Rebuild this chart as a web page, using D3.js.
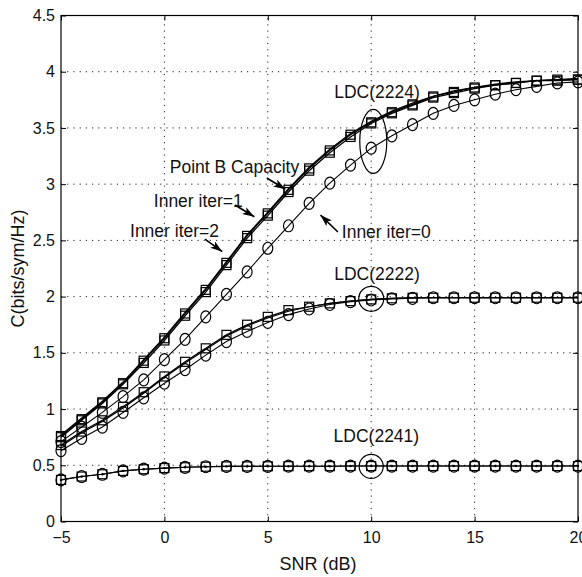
<!DOCTYPE html>
<html><head><meta charset="utf-8">
<script src="https://cdn.jsdelivr.net/npm/d3@7"></script>
<style>
body{margin:0;background:#fff;}
svg text{font-family:"Liberation Sans Narrow","Arial Narrow","Liberation Sans",sans-serif;fill:#111;}
</style></head><body>
<svg id="c" width="582" height="577"></svg>
<script>
// ---- data ----
const snr = [-5,-4,-3,-2,-1,0,1,2,3,4,5,6,7,8,9,10,11,12,13,14,15,16,17,18,19,20];
const xTicks = [-5,0,5,10,15,20];
const xTickLabels = ["\u22125","0","5","10","15","20"];
const yTicks = [0,0.5,1,1.5,2,2.5,3,3.5,4,4.5];
const yTickLabels = ["0","0.5","1","1.5","2","2.5","3","3.5","4","4.5"];

// LDC(2224)
const ldc2224_iter0 = [0.71,0.84,0.97,1.11,1.26,1.44,1.62,1.82,2.02,2.22,2.43,2.63,2.83,3.01,3.17,3.32,3.43,3.53,3.63,3.70,3.75,3.80,3.84,3.87,3.90,3.91];
const ldc2224_iter1 = [0.75,0.90,1.05,1.22,1.41,1.61,1.83,2.04,2.28,2.52,2.72,2.93,3.12,3.28,3.42,3.54,3.63,3.70,3.77,3.81,3.85,3.88,3.90,3.92,3.92,3.93];
const ldc2224_iter2 = [0.76,0.91,1.06,1.23,1.43,1.63,1.85,2.06,2.30,2.54,2.74,2.95,3.14,3.30,3.44,3.55,3.64,3.71,3.78,3.82,3.86,3.88,3.90,3.92,3.93,3.93];
const ldc2224_capB  = [0.77,0.92,1.07,1.24,1.44,1.64,1.86,2.07,2.31,2.55,2.75,2.96,3.15,3.31,3.45,3.56,3.65,3.72,3.78,3.83,3.86,3.89,3.91,3.92,3.93,3.94];
// LDC(2222)
const ldc2222_iter0 = [0.63,0.74,0.84,0.97,1.10,1.23,1.35,1.48,1.60,1.69,1.77,1.84,1.89,1.93,1.955,1.97,1.98,1.985,1.99,1.99,1.99,1.99,1.99,1.99,1.99,1.99];
const ldc2222_iter1 = [0.67,0.79,0.89,1.01,1.14,1.28,1.41,1.53,1.65,1.74,1.81,1.87,1.91,1.94,1.96,1.975,1.985,1.99,1.99,1.99,1.99,1.99,1.99,1.99,1.99,1.99];
const ldc2222_iter2 = [0.68,0.80,0.90,1.02,1.15,1.29,1.42,1.54,1.66,1.75,1.82,1.88,1.91,1.94,1.96,1.975,1.985,1.99,1.99,1.99,1.99,1.99,1.99,1.99,1.99,1.99];
// LDC(2241)
const ldc2241_iter0 = [0.37,0.40,0.42,0.45,0.465,0.475,0.482,0.487,0.49,0.49,0.491,0.492,0.492,0.492,0.493,0.493,0.493,0.493,0.493,0.493,0.493,0.493,0.493,0.493,0.493,0.493];
const ldc2241_iter1 = [0.37,0.40,0.42,0.45,0.465,0.475,0.482,0.487,0.49,0.49,0.491,0.492,0.492,0.492,0.493,0.493,0.493,0.493,0.493,0.493,0.493,0.493,0.493,0.493,0.493,0.493];

// annotations (data coordinates)
const labels = [
  {t:"LDC(2224)", x:10.28, y:3.82},
  {t:"LDC(2222)", x:10.28, y:2.20},
  {t:"LDC(2241)", x:10.25, y:0.76},
  {t:"Point B Capacity", x:3.39, y:3.155},
  {t:"Inner iter=1", x:1.64, y:2.853},
  {t:"Inner iter=2", x:0.49, y:2.59},
  {t:"Inner iter=0", x:10.73, y:2.577}
];
const arrows = [
  {x1:4.95,y1:3.055,x2:5.85,y2:2.955},
  {x1:3.41,y1:2.815,x2:4.35,y2:2.71},
  {x1:1.96,y1:2.512,x2:2.80,y2:2.40},
  {x1:8.39,y1:2.575,x2:7.55,y2:2.725}
];
const rings = [
  {x:10.1, y:3.38, rx:13.5, ry:32},
  {x:10, y:1.98, rx:12.5, ry:12.5},
  {x:10, y:0.49, rx:12, ry:12}
];

// ---- drawing ----
const svg = d3.select("#c");
const x = d3.scaleLinear().domain([-5,20]).range([61,578]);
const y = d3.scaleLinear().domain([0,4.5]).range([521.5,15.5]);

svg.append("rect").attr("width",582).attr("height",577).attr("fill","#fff");

// grid
const grid = svg.append("g").attr("stroke","#222").attr("stroke-width",1).attr("stroke-dasharray","1.2,5");
grid.selectAll(".gx").data(xTicks.slice(1,-1)).join("line")
  .attr("x1",d=>x(d)).attr("x2",d=>x(d)).attr("y1",y(0)).attr("y2",y(4.5));
grid.selectAll(".gy").data(yTicks.slice(1,-1)).join("line")
  .attr("y1",d=>y(d)).attr("y2",d=>y(d)).attr("x1",x(-5)).attr("x2",x(20));

// axes
const fs = 16;
const ax = svg.append("g").attr("transform",`translate(0,${y(0)})`)
  .call(d3.axisBottom(x).tickValues(xTicks).tickFormat((d,i)=>xTickLabels[i]).tickSize(-5).tickPadding(10));
const ay = svg.append("g").attr("transform",`translate(${x(-5)},0)`)
  .call(d3.axisLeft(y).tickValues(yTicks).tickFormat((d,i)=>yTickLabels[i]).tickSize(-5).tickPadding(6));
const at = svg.append("g").attr("transform",`translate(0,${y(4.5)})`)
  .call(d3.axisTop(x).tickValues(xTicks).tickFormat("").tickSize(-5));
const ar = svg.append("g").attr("transform",`translate(${x(20)},0)`)
  .call(d3.axisRight(y).tickValues(yTicks).tickFormat("").tickSize(-5));
[ax,ay,at,ar].forEach(g=>{
  g.select(".domain").remove();
  g.selectAll("line").attr("stroke","#000");
  g.selectAll("text").attr("font-size",fs).attr("fill","#111")
    .style("font-family",'"Liberation Sans Narrow","Arial Narrow","Liberation Sans",sans-serif');
});
svg.append("rect").attr("x",x(-5)).attr("y",y(4.5)).attr("width",x(20)-x(-5)).attr("height",y(0)-y(4.5))
  .attr("fill","none").attr("stroke","#000").attr("stroke-width",1.2);

// axis titles
svg.append("text").attr("x",318).attr("y",570).attr("text-anchor","middle").attr("font-size",18).text("SNR (dB)");
svg.append("text").attr("transform",`translate(24,${(y(0)+y(4.5))/2}) rotate(-90)`).attr("text-anchor","middle").attr("font-size",18).text("C(bits/sym/Hz)");

// curves
const line = d3.line().x((d,i)=>x(snr[i])).y(d=>y(d));
const series = [
  {v:ldc2224_capB, m:"none", w:1.3},
  {v:ldc2224_iter2, m:"sq", w:1.3},
  {v:ldc2224_iter1, m:"sq", w:1.3},
  {v:ldc2224_iter0, m:"ci", w:1.1},
  {v:ldc2222_iter2, m:"sq", w:1.2},
  {v:ldc2222_iter1, m:"none", w:1.2},
  {v:ldc2222_iter0, m:"ci", w:1.1},
  {v:ldc2241_iter1, m:"sq", w:1.1},
  {v:ldc2241_iter0, m:"ci", w:1.1}
];
const cg = svg.append("g");
series.forEach(s=>{
  cg.append("path").attr("d",line(s.v)).attr("fill","none").attr("stroke","#000").attr("stroke-width",s.w);
});
series.forEach(s=>{
  const g = cg.append("g").attr("fill","none").attr("stroke","#000").attr("stroke-width",1.2);
  if(s.m==="sq"){
    g.selectAll("rect").data(s.v).join("rect")
      .attr("x",(d,i)=>x(snr[i])-4.5).attr("y",d=>y(d)-4.5).attr("width",9).attr("height",9);
  } else if(s.m==="ci"){
    g.selectAll("ellipse").data(s.v).join("ellipse")
      .attr("cx",(d,i)=>x(snr[i])).attr("cy",d=>y(d)).attr("rx",5).attr("ry",6);
  }
});
// center dots for LDC(2241)
cg.append("g").selectAll("circle").data(ldc2241_iter0).join("circle")
  .attr("cx",(d,i)=>x(snr[i])).attr("cy",d=>y(d)).attr("r",1.2).attr("fill","#000");

// rings
svg.append("g").selectAll("ellipse").data(rings).join("ellipse")
  .attr("cx",d=>x(d.x)).attr("cy",d=>y(d.y)).attr("rx",d=>d.rx).attr("ry",d=>d.ry)
  .attr("fill","none").attr("stroke","#000").attr("stroke-width",1.2);

// labels
svg.append("g").selectAll("text").data(labels).join("text")
  .attr("x",d=>x(d.x)).attr("y",d=>y(d.y)).attr("dy","0.36em").attr("text-anchor","middle")
  .attr("font-size",17.5).text(d=>d.t);

// arrows
const defs = svg.append("defs");
defs.append("marker").attr("id","ah").attr("viewBox","0 0 12 8").attr("refX",12).attr("refY",4)
  .attr("markerWidth",12).attr("markerHeight",8).attr("markerUnits","userSpaceOnUse").attr("orient","auto")
  .append("path").attr("d","M0,0 L12,4 L0,8 L3,4 Z").attr("fill","#000");
svg.append("g").selectAll("line").data(arrows).join("line")
  .attr("x1",d=>x(d.x1)).attr("y1",d=>y(d.y1)).attr("x2",d=>x(d.x2)).attr("y2",d=>y(d.y2))
  .attr("stroke","#000").attr("stroke-width",1.6).attr("marker-end","url(#ah)");
</script>
</body></html>
